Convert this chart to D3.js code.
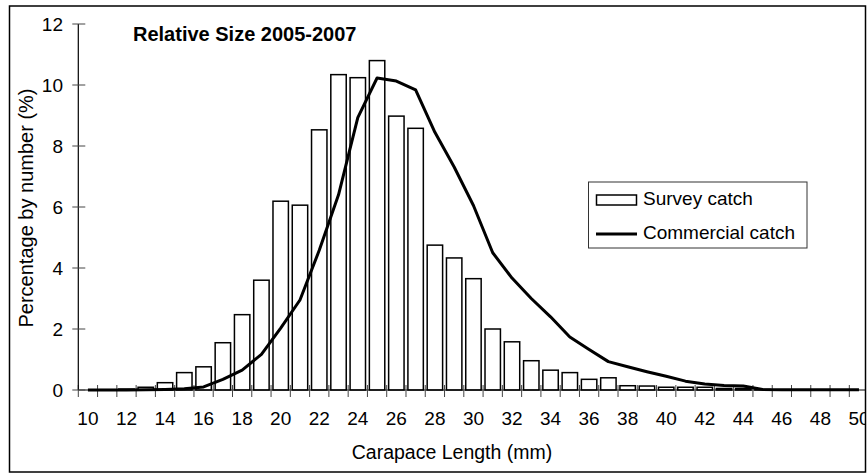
<!DOCTYPE html>
<html>
<head>
<meta charset="UTF-8">
<title>Relative Size 2005-2007</title>
<script src="https://d3js.org/d3.v7.min.js"></script>
<style>
  body { margin: 0; background: #fff; }
  svg { display: block; font-family: Arial, "Liberation Sans", sans-serif; }
</style>
</head>
<body>
<svg width="867" height="473"></svg>
<script>
// carapace length classes (mm)
const lengths = [10, 11, 12, 13, 14, 15, 16, 17, 18, 19, 20, 21, 22, 23, 24, 25, 26, 27, 28, 29, 30,
                 31, 32, 33, 34, 35, 36, 37, 38, 39, 40, 41, 42, 43, 44, 45, 46, 47, 48, 49, 50];
// percentage by number
const survey = [0, 0.01, 0.03, 0.09, 0.24, 0.57, 0.76, 1.55, 2.47, 3.6, 6.19, 6.06, 8.53, 10.34, 10.24, 10.8,
                8.98, 8.58, 4.75, 4.33, 3.65, 2.0, 1.58, 0.96, 0.65, 0.57, 0.35, 0.4, 0.14, 0.13, 0.09,
                0.09, 0.09, 0.05, 0.05, 0.02, 0, 0, 0, 0, 0];
const commercial = [0, 0, 0, 0.01, 0.02, 0.04, 0.1, 0.35, 0.65, 1.17, 2.03, 2.95, 4.58, 6.4, 8.93, 10.23,
                    10.13, 9.84, 8.45, 7.31, 6.05, 4.5, 3.67, 3.0, 2.4, 1.74, 1.33, 0.93, 0.76, 0.6, 0.45,
                    0.29, 0.2, 0.15, 0.13, 0.02, 0.01, 0.01, 0.01, 0.01, 0.01];
const xTickLabels = [10, 12, 14, 16, 18, 20, 22, 24, 26, 28, 30, 32, 34, 36, 38, 40, 42, 44, 46, 48, 50];
const yTicks = [0, 2, 4, 6, 8, 10, 12];

const svg = d3.select("svg");
const plotLeft = 78.3, plotRight = 868.6, plotTop = 24, plotBottom = 390;

const x = d3.scaleBand().domain(lengths).range([plotLeft, plotRight]).paddingInner(0.2).paddingOuter(0.1);
const y = d3.scaleLinear().domain([0, 12]).range([plotBottom, plotTop]);
const step = x.step();
const boundary = d => x(d) - step * 0.1;   // left edge of a category slot

// outer frame
svg.append("rect")
    .attr("x", 9.5).attr("y", 6).attr("width", 856).attr("height", 466)
    .attr("fill", "none").attr("stroke", "#000").attr("stroke-width", 1.5);

svg.append("clipPath").attr("id", "clip")
  .append("rect").attr("x", 0).attr("y", 0).attr("width", 865.5).attr("height", 473);

const g = svg.append("g").attr("clip-path", "url(#clip)");

// bars
g.selectAll("rect.bar")
  .data(lengths.map((d, i) => ({ len: d, v: survey[i] })))
  .enter().append("rect")
    .attr("class", "bar")
    .attr("x", d => x(d.len))
    .attr("y", d => y(d.v))
    .attr("width", x.bandwidth())
    .attr("height", d => plotBottom - y(d.v))
    .attr("fill", "#fff")
    .attr("stroke", "#000")
    .attr("stroke-width", 1.5);

// axes
g.append("line").attr("x1", plotLeft).attr("x2", 866).attr("y1", plotBottom).attr("y2", plotBottom)
    .attr("stroke", "#000").attr("stroke-width", 1.2);
g.selectAll("line.xtick")
  .data(lengths)
  .enter().append("line")
    .attr("class", "xtick")
    .attr("x1", d => boundary(d)).attr("x2", d => boundary(d))
    .attr("y1", plotBottom - 5).attr("y2", plotBottom + 7)
    .attr("stroke", "#444").attr("stroke-width", 1);

svg.append("line").attr("x1", plotLeft).attr("x2", plotLeft).attr("y1", plotTop).attr("y2", plotBottom)
    .attr("stroke", "#000").attr("stroke-width", 1.2);
svg.selectAll("line.ytick")
  .data(yTicks)
  .enter().append("line")
    .attr("class", "ytick")
    .attr("x1", plotLeft - 6).attr("x2", plotLeft + 7)
    .attr("y1", d => y(d)).attr("y2", d => y(d))
    .attr("stroke", "#444").attr("stroke-width", 1);

svg.selectAll("text.ylab")
  .data(yTicks)
  .enter().append("text")
    .attr("class", "ylab")
    .attr("x", 63).attr("y", d => y(d))
    .attr("dy", "0.35em")
    .attr("text-anchor", "end")
    .attr("font-size", 19)
    .text(d => d);

g.selectAll("text.xlab")
  .data(xTickLabels)
  .enter().append("text")
    .attr("class", "xlab")
    .attr("x", d => x(d) + x.bandwidth() / 2)
    .attr("y", 425)
    .attr("text-anchor", "middle")
    .attr("font-size", 19)
    .text(d => d);

// commercial catch line
const line = d3.line()
    .x((d, i) => x(lengths[i]) + x.bandwidth() / 2)
    .y(d => y(d));
g.append("path")
    .datum(commercial)
    .attr("d", line)
    .attr("fill", "none")
    .attr("stroke", "#000")
    .attr("stroke-width", 3)
    .attr("stroke-linejoin", "round");

// titles
svg.append("text")
    .attr("x", 133).attr("y", 41)
    .attr("font-size", 20).attr("font-weight", "bold")
    .text("Relative Size 2005-2007");

svg.append("text")
    .attr("x", 452).attr("y", 459)
    .attr("text-anchor", "middle")
    .attr("font-size", 19.5)
    .text("Carapace Length (mm)");

svg.append("text")
    .attr("transform", "translate(33,208) rotate(-90)")
    .attr("text-anchor", "middle")
    .attr("font-size", 20)
    .text("Percentage by number (%)");

// legend
const lg = svg.append("g");
lg.append("rect")
    .attr("x", 588.5).attr("y", 182).attr("width", 218.5).attr("height", 66)
    .attr("fill", "#fff").attr("stroke", "#333").attr("stroke-width", 1);
lg.append("rect")
    .attr("x", 596.5).attr("y", 195).attr("width", 40).attr("height", 10)
    .attr("fill", "#fff").attr("stroke", "#000").attr("stroke-width", 1.5);
lg.append("line")
    .attr("x1", 596).attr("x2", 637).attr("y1", 234).attr("y2", 234)
    .attr("stroke", "#000").attr("stroke-width", 3);
lg.append("text").attr("x", 643).attr("y", 205).attr("font-size", 19).text("Survey catch");
lg.append("text").attr("x", 643).attr("y", 238.5).attr("font-size", 19).text("Commercial catch");
</script>
</body>
</html>
